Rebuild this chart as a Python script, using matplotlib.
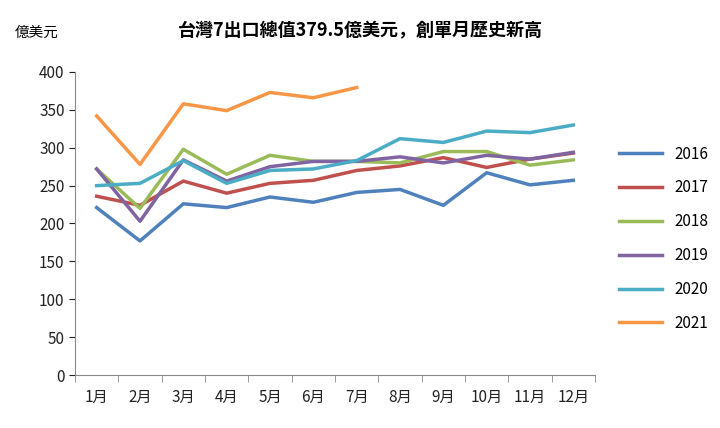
import matplotlib
matplotlib.use("Agg")
import matplotlib.pyplot as plt

plt.rcParams["font.family"] = ["Noto Sans CJK JP", "Noto Sans CJK TC", "Noto Sans CJK SC", "DejaVu Sans"]

months = ["1月","2月","3月","4月","5月","6月","7月","8月","9月","10月","11月","12月"]
s2016 = [221,177,226,221,235,228,241,245,224,267,251,257]
s2017 = [236,224,256,240,253,257,270,276,287,274,285,293]
s2018 = [272,220,298,265,290,282,282,280,295,295,277,284]
s2019 = [272,203,284,256,275,282,282,288,280,290,285,294]
s2020 = [250,253,283,253,270,272,283,312,307,322,320,330]
s2021 = [342,278,358,349,373,366,379.5]
labels = ["2016","2017","2018","2019","2020","2021"]
colors = ["#4F81BD","#C0504D","#9BBB59","#8064A2","#4BACC6","#F79646"]

fig = plt.figure(figsize=(7.2,4.28), dpi=100)
ax = fig.add_axes([75/720, 1-375/428, 520/720, 303/428])
x = list(range(len(months)))
for s, lab, c in zip([s2016,s2017,s2018,s2019,s2020,s2021], labels, colors):
    ax.plot(x[:len(s)], s, color=c, lw=2.5, label=lab)
ax.set_xlim(-0.5, 11.5)
ax.set_ylim(0, 400)
ax.set_yticks(range(0, 401, 50))
ax.set_xticks(x)
ax.set_xticklabels(months)
ax.tick_params(labelsize=11, colors="#222222")
ax.tick_params(axis="x", length=0, pad=10)
ax.tick_params(axis="y", length=4)
for sp in ["top","right"]:
    ax.spines[sp].set_visible(False)
for sp in ["left","bottom"]:
    ax.spines[sp].set_color("#888888")
ax.set_xticks([i-0.5 for i in range(13)], minor=True)
ax.tick_params(axis="x", which="minor", length=5, color="#888888")
ax.legend(loc="center left", bbox_to_anchor=(1.02, 0.45), frameon=False, fontsize=11,
          handlelength=2.8, labelspacing=1.1)
fig.text(0.5, 0.915, "台灣7出口總值379.5億美元，創單月歷史新高", ha="center", fontsize=13, fontweight="bold")
fig.text(15/720, 0.915, "億美元", fontsize=10.5)
fig.savefig("out.png", dpi=100)
